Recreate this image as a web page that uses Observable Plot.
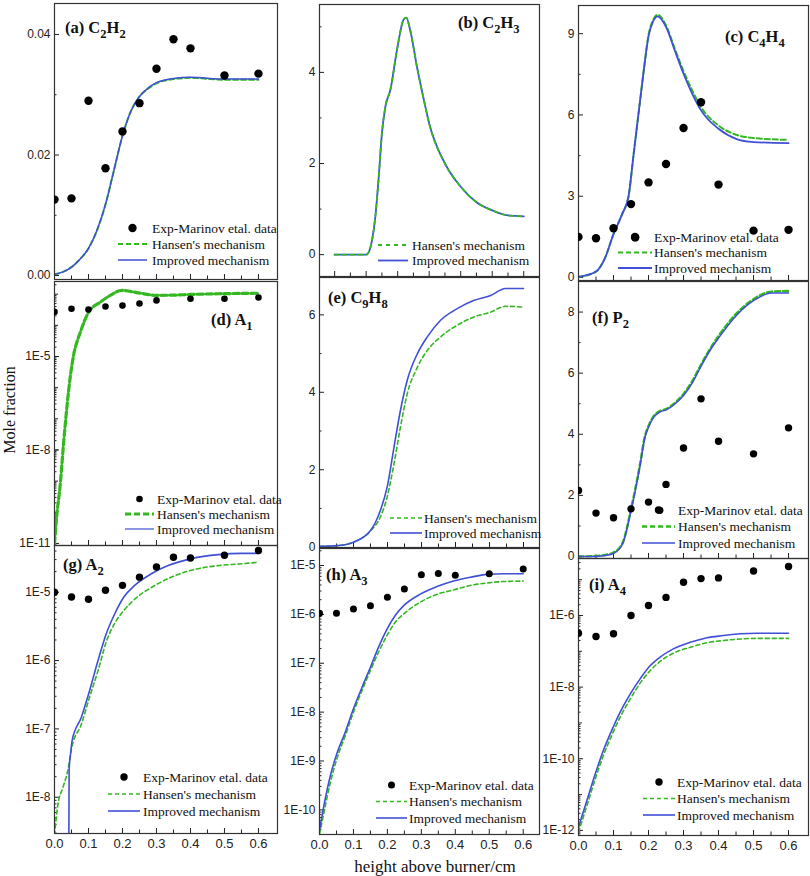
<!DOCTYPE html>
<html><head><meta charset="utf-8">
<script src="https://cdn.jsdelivr.net/npm/d3@7"></script>
<script src="https://cdn.jsdelivr.net/npm/@observablehq/plot@0.6"></script>
<style>
body{margin:0;background:#fff;}
#chart{position:relative;width:810px;height:876px;overflow:hidden;background:#fff;}
</style></head><body><div id="chart"></div>
<script>
// ---------- data ----------
const expX = [0,0.05,0.1,0.15,0.2,0.25,0.3,0.35,0.4,0.5,0.6];
const xMajorTicks = [0,0.1,0.2,0.3,0.4,0.5,0.6];
const xMinorTicks = [0.05,0.15,0.25,0.35,0.45,0.55];
const xTickLabels = ["0.0","0.1","0.2","0.3","0.4","0.5","0.6"];
const legendLabels = ["Exp-Marinov etal. data","Hansen's mechanism","Improved mechanism"];

// (a) C2H2
const a_exp = [0.0126,0.0128,0.029,0.0178,0.0239,0.0286,0.0343,0.0392,0.0377,0.0332,0.0335];
const a_simX = [0,0.025,0.05,0.075,0.1,0.125,0.15,0.175,0.2,0.225,0.25,0.275,0.3,0.35,0.4,0.5,0.6];
const a_improved = [0.0002,0.0006,0.0014,0.0027,0.0045,0.0075,0.0118,0.0175,0.0232,0.0273,0.0297,0.0311,0.032,0.0327,0.0329,0.0326,0.0326];
const a_hansen = [0.0002,0.0006,0.0014,0.0027,0.0045,0.0075,0.0118,0.0175,0.0232,0.0273,0.0297,0.031,0.0319,0.0326,0.0328,0.0325,0.0325];

// (b) C2H3
const b_simX = [0,0.05,0.1,0.108,0.1185,0.129,0.14,0.15,0.161,0.177,0.198,0.219,0.2275,0.24,0.261,0.283,0.3,0.35,0.4,0.45,0.5,0.55,0.6];
const b_improved = [0,0,0,0.05,0.31,0.82,1.71,2.66,3.25,3.62,4.5,5.16,5.2,4.92,4.13,3.4,2.88,2.0,1.49,1.15,0.97,0.86,0.84];
const b_hansen = [0,0,0,0.05,0.31,0.82,1.71,2.66,3.25,3.62,4.5,5.16,5.2,4.92,4.13,3.4,2.88,2.0,1.49,1.15,0.97,0.86,0.84];

// (c) C4H4
const c_expX = [0,0.05,0.1,0.15,0.162,0.2,0.25,0.3,0.35,0.4,0.5,0.6];
const c_exp = [1.5,1.45,1.82,2.71,1.48,3.51,4.19,5.52,6.47,3.43,1.73,1.76];
const c_simX = [0,0.05,0.075,0.1,0.125,0.143,0.157,0.171,0.186,0.2,0.213,0.226,0.25,0.275,0.3,0.325,0.35,0.4,0.45,0.5,0.6];
const c_improved = [0.02,0.22,0.7,1.6,2.35,3.0,4.5,6.0,7.6,8.9,9.45,9.64,9.25,8.38,7.52,6.78,6.17,5.49,5.12,5.0,4.96];
const c_hansen = [0.02,0.22,0.7,1.6,2.35,3.0,4.5,6.0,7.6,8.95,9.5,9.7,9.3,8.45,7.62,6.9,6.29,5.61,5.27,5.15,5.08];

// (d) A1
const d_expX = [0,0.05,0.1,0.15,0.2,0.25,0.3,0.4,0.5,0.6];
const d_exp = [2.7e-4,3.4e-4,3.2e-4,4.0e-4,4.3e-4,5.0e-4,6.3e-4,7.1e-4,7.1e-4,7.8e-4];
const d_simX = [0,0.005,0.0175,0.027,0.037,0.047,0.056,0.076,0.1,0.134,0.164,0.198,0.247,0.3,0.35,0.4,0.5,0.6];
const d_improved = [1.0e-11,5.0e-11,9.3e-10,1.8e-8,2.7e-7,2.5e-6,1.07e-5,6.0e-5,2.6e-4,5.5e-4,9.1e-4,1.32e-3,1.1e-3,9.2e-4,9.3e-4,9.8e-4,1.04e-3,1.07e-3];
const d_hansen = [1.0e-11,5.0e-11,9.3e-10,1.8e-8,2.7e-7,2.5e-6,1.07e-5,6.0e-5,2.6e-4,5.5e-4,9.1e-4,1.32e-3,1.1e-3,9.2e-4,9.3e-4,9.8e-4,1.04e-3,1.07e-3];

// (e) C9H8
const e_simX = [0,0.052,0.1,0.15,0.179,0.199,0.219,0.238,0.258,0.288,0.317,0.356,0.405,0.453,0.503,0.547,0.6];
const e_improved = [0.02,0.04,0.13,0.43,0.95,1.55,2.58,3.53,4.31,5.0,5.43,5.86,6.16,6.37,6.5,6.68,6.68];
const e_hansen = [0.02,0.04,0.13,0.42,0.78,1.3,2.15,3.1,3.96,4.65,5.08,5.43,5.73,5.94,6.07,6.22,6.2];

// (f) P2
const f_expX = [0,0.05,0.1,0.15,0.2,0.232,0.25,0.3,0.35,0.4,0.5,0.6];
const f_exp = [2.16,1.42,1.27,1.56,1.78,1.51,2.36,3.55,5.16,3.77,3.36,4.21];
const f_simX = [0,0.05,0.075,0.1,0.126,0.15,0.175,0.19,0.2,0.215,0.231,0.251,0.276,0.3,0.326,0.351,0.376,0.402,0.451,0.501,0.551,0.6];
const f_improved = [0,0,0.03,0.1,0.41,1.5,2.92,3.91,4.23,4.56,4.72,4.8,5.0,5.27,5.7,6.25,6.75,7.18,7.89,8.38,8.62,8.62];
const f_hansen = [0,0.02,0.05,0.13,0.45,1.55,2.97,3.95,4.27,4.6,4.75,4.83,5.03,5.32,5.76,6.3,6.8,7.25,7.95,8.43,8.67,8.69];

// (g) A2
const g_exp = [1.0e-5,8.5e-6,7.9e-6,1.07e-5,1.26e-5,1.66e-5,2.34e-5,3.24e-5,3.16e-5,3.47e-5,4.07e-5];
const g_impX = [0.042,0.043,0.047,0.052,0.079,0.103,0.128,0.152,0.177,0.204,0.236,0.285,0.334,0.403,0.482,0.551,0.6];
const g_improved = [1e-9,2.5e-8,4.2e-8,6.8e-8,1.48e-7,3.6e-7,1.0e-6,2.45e-6,4.8e-6,8.5e-6,1.26e-5,1.86e-5,2.45e-5,3.1e-5,3.55e-5,3.7e-5,3.7e-5];
const g_hanX = [0,0.01,0.025,0.039,0.051,0.079,0.103,0.128,0.152,0.177,0.204,0.236,0.285,0.334,0.403,0.482,0.551,0.6];
const g_hansen = [2.8e-9,7.9e-9,1.4e-8,2.45e-8,5.4e-8,1.17e-7,2.9e-7,7.1e-7,1.86e-6,3.5e-6,5.4e-6,7.9e-6,1.17e-5,1.58e-5,2.1e-5,2.45e-5,2.6e-5,2.75e-5];

// (h) A3
const h_exp = [1.05e-6,1.05e-6,1.29e-6,1.51e-6,2.24e-6,3.3e-6,6.5e-6,6.9e-6,6.3e-6,6.8e-6,8.5e-6];
const h_simX = [0,0.012,0.031,0.051,0.076,0.1,0.125,0.15,0.174,0.199,0.223,0.248,0.297,0.346,0.395,0.444,0.494,0.543,0.6];
const h_improved = [3.8e-11,1.12e-10,4.7e-10,1.41e-9,3.9e-9,1.17e-8,3.2e-8,8.3e-8,2.14e-7,5.0e-7,9.5e-7,1.51e-6,2.6e-6,3.7e-6,4.8e-6,5.75e-6,6.6e-6,6.8e-6,6.8e-6];
const h_hansen = [3.2e-11,8.1e-11,3.4e-10,1.1e-9,3.3e-9,1.0e-8,2.75e-8,7.1e-8,1.7e-7,3.7e-7,6.9e-7,1.02e-6,1.78e-6,2.57e-6,3.16e-6,3.9e-6,4.4e-6,4.7e-6,4.8e-6];

// (i) A4
const i_exp = [3.2e-7,2.6e-7,3.1e-7,1.0e-6,1.9e-6,3.2e-6,8.5e-6,1.07e-5,1.12e-5,1.74e-5,2.34e-5];
const i_simX = [0,0.024,0.048,0.071,0.095,0.119,0.148,0.176,0.205,0.233,0.271,0.319,0.367,0.414,0.462,0.51,0.6];
const i_improved = [1.23e-12,6.8e-12,3.8e-11,1.7e-10,6.2e-10,2.0e-9,6.5e-9,1.7e-8,4.0e-8,6.9e-8,1.17e-7,1.78e-7,2.4e-7,2.75e-7,3.1e-7,3.2e-7,3.2e-7];
const i_hansen = [8.9e-13,4.9e-12,2.75e-11,1.23e-10,4.5e-10,1.45e-9,4.7e-9,1.29e-8,2.9e-8,5.2e-8,8.9e-8,1.29e-7,1.74e-7,2.0e-7,2.2e-7,2.3e-7,2.3e-7];

// ---------- styling ----------
const GREEN = "#33b81f", BLUE = "#3f4fd6", INK = "#222";
const serif = "'Liberation Serif','Times New Roman',serif";
const sans = "'Liberation Sans',Arial,sans-serif";
const zip = (xs, ys) => xs.map((x, i) => ({x, y: ys[i]}));
const decades = (lo, hi) => d3.range(lo, hi + 1).map(e => Math.pow(10, e));
const subDecades = (lo, hi) => d3.range(lo, hi + 1).flatMap(e => [2,3,4,5,6,7,8,9].map(m => m * Math.pow(10, e)));
const fmtE = d => "1E" + Math.round(Math.log10(d));

const panels = [
  {frame:[54,277,3,279], xDomain:[0,0.656], yType:"linear", yDomain:[-0.00066,0.04514],
   yMajor:[0,0.02,0.04], yMid:[], yMinor:[0.01,0.03], yFmt:d=>d.toFixed(2),
   exp: zip(expX,a_exp), han: zip(a_simX,a_hansen), imp: zip(a_simX,a_improved), r:4.2,
   gw:2, bw:1.5, dash:"5,3", greenTop:false,
   title:["(a) C","2","H","2"], tx:65, ty:33,
   legend:{sx:118, sw:29, tx:152, y0:228, step:16, items:["dot","dash","line"]}},
  {frame:[319,539,4,276], xDomain:[-0.048,0.65], yType:"linear", yDomain:[-0.48,5.49],
   yMajor:[0,2,4], yMid:[], yMinor:[1,3,5], yFmt:d=>String(d),
   exp:null, han: zip(b_simX,b_hansen), imp: zip(b_simX,b_improved), r:4,
   gw:1.8, bw:1.8, dash:"4,4", greenTop:true,
   title:["(b) C","2","H","3"], tx:458, ty:28,
   legend:{sx:378, sw:30, tx:412, y0:245, step:15.5, items:["dash","line"]}},
  {frame:[578,808,5,280], xDomain:[0,0.657], yType:"linear", yDomain:[-0.11,10.04],
   yMajor:[0,3,6,9], yMid:[], yMinor:[1.5,4.5,7.5], yFmt:d=>String(d),
   exp: zip(c_expX,c_exp), han: zip(c_simX,c_hansen), imp: zip(c_simX,c_improved), r:4.2,
   gw:2, bw:1.8, dash:"5,3", greenTop:false,
   title:["(c) C","4","H","4"], tx:725, ty:42,
   legend:{sx:618, sw:34, tx:654, y0:237, step:15.5, items:["dot","dash","line"]}},
  {frame:[54,277,281,545], xDomain:[0,0.656], yType:"log", yDomain:[8.6e-12,2.55e-3],
   yMajor:[1e-5,1e-8,1e-11], yMid:decades(-10,-3), yMinor:subDecades(-12,-3), yFmt:fmtE,
   exp: zip(d_expX,d_exp), han: zip(d_simX,d_hansen), imp: zip(d_simX,d_improved), r:3.3,
   gw:3.2, bw:1.2, dash:"6,3", greenTop:true,
   title:["(d) A","1"], tx:211, ty:325,
   legend:{sx:125, sw:29, tx:157, y0:499, step:15, items:["dot","dash","line"]}},
  {frame:[319,539,277,547], xDomain:[0,0.647], yType:"linear", yDomain:[-0.008,6.964],
   yMajor:[0,2,4,6], yMid:[], yMinor:[1,3,5], yFmt:d=>String(d),
   exp:null, han: zip(e_simX,e_hansen), imp: zip(e_simX,e_improved), r:4,
   gw:1.6, bw:1.6, dash:"4,3", greenTop:false,
   title:["(e) C","9","H","8"], tx:328, ty:303,
   legend:{sx:390, sw:32, tx:424, y0:518, step:15, items:["dash","line"]}},
  {frame:[578,808,281,558], xDomain:[0,0.657], yType:"linear", yDomain:[-0.065,9.0],
   yMajor:[0,2,4,6,8], yMid:[], yMinor:[1,3,5,7], yFmt:d=>String(d),
   exp: zip(f_expX,f_exp), han: zip(f_simX,f_hansen), imp: zip(f_simX,f_improved), r:3.7,
   gw:2.4, bw:1.5, dash:"5,3", greenTop:false,
   title:["(f) P","2"], tx:592, ty:323,
   legend:{sx:642, sw:33, tx:678, y0:510, step:16.5, items:["dot","dash","line"]}},
  {frame:[54,277,545,833], xDomain:[0,0.656], yType:"log", yDomain:[2.95e-9,4.82e-5],
   yMajor:[1e-5,1e-6,1e-7,1e-8], yMid:[], yMinor:subDecades(-9,-5), yFmt:fmtE,
   exp: zip(expX,g_exp), han: zip(g_hanX,g_hansen), imp: zip(g_impX,g_improved), r:3.7,
   gw:1.6, bw:1.6, dash:"4,3", greenTop:false, xLabels:true,
   title:["(g) A","2"], tx:63, ty:570,
   legend:{sx:108, sw:32, tx:143, y0:777, step:17, items:["dot","dash","line"]}},
  {frame:[319,539,548,834], xDomain:[0,0.648], yType:"log", yDomain:[3.13e-11,2.23e-5],
   yMajor:[1e-5,1e-6,1e-7,1e-8,1e-9,1e-10], yMid:[], yMinor:subDecades(-11,-5), yFmt:fmtE,
   exp: zip(expX,h_exp), han: zip(h_simX,h_hansen), imp: zip(h_simX,h_improved), r:3.5,
   gw:1.6, bw:1.6, dash:"4,3", greenTop:false, xLabels:true,
   title:["(h) A","3"], tx:326, ty:580,
   legend:{sx:376, sw:31, tx:409, y0:785, step:16.5, items:["dot","dash","line"]}},
  {frame:[578,808,558,835], xDomain:[0,0.657], yType:"log", yDomain:[7.2e-13,3.9e-5],
   yMajor:[1e-6,1e-8,1e-10,1e-12], yMid:[1e-5,1e-7,1e-9,1e-11], yMinor:subDecades(-13,-5), yFmt:fmtE,
   exp: zip(expX,i_exp), han: zip(i_simX,i_hansen), imp: zip(i_simX,i_improved), r:3.7,
   gw:1.6, bw:1.6, dash:"4,3", greenTop:false, xLabels:true,
   title:["(i) A","4"], tx:589, ty:590,
   legend:{sx:643, sw:32, tx:677, y0:782, step:16.5, items:["dot","dash","line"]}}
];

const chart = document.getElementById("chart");

function makePanel(p) {
  const [L, R, T, B] = p.frame;
  const ml = 50, mr = 2, mt = 2, mb = 2;
  const fw = R - L, fh = B - T;
  const [x0, x1] = p.xDomain, [y0, y1] = p.yDomain;
  const isLog = p.yType === "log";
  const inY = t => t >= Math.min(y0, y1) && t <= Math.max(y0, y1);
  const yUp = len => isLog ? y0 * Math.pow(10, len * (Math.log10(y1) - Math.log10(y0)) / fh)
                           : y0 + len * (y1 - y0) / fh;
  const xIn = len => x0 + len * (x1 - x0) / fw;
  const tick = {stroke: INK, strokeWidth: 1};
  const green = Plot.line(p.han, {x:"x", y:"y", stroke:GREEN, strokeWidth:p.gw, strokeDasharray:p.dash, curve:"monotone-x", clip:true});
  const blue = Plot.line(p.imp, {x:"x", y:"y", stroke:BLUE, strokeWidth:p.bw, curve:"monotone-x", clip:true});
  const marks = [
    Plot.ruleX(xMajorTicks, {x:d=>d, y1:y0, y2:yUp(5), ...tick}),
    Plot.ruleX(xMinorTicks, {x:d=>d, y1:y0, y2:yUp(3.5), ...tick}),
    Plot.ruleY(p.yMajor.filter(inY), {y:d=>d, x1:x0, x2:xIn(5), ...tick}),
    Plot.ruleY(p.yMid.filter(inY), {y:d=>d, x1:x0, x2:xIn(4), ...tick}),
    Plot.ruleY(p.yMinor.filter(inY), {y:d=>d, x1:x0, x2:xIn(2.5), ...tick}),
    Plot.text(p.yMajor, {y:d=>d, frameAnchor:"left", textAnchor:"end", dx:-4, text:p.yFmt, fontSize:12, fontFamily:sans, fill:INK}),
    ...(p.greenTop ? [blue, green] : [green, blue]),
    Plot.frame({stroke:"#333", strokeWidth:1.2})
  ];
  if (p.exp) marks.push(Plot.dot(p.exp, {x:"x", y:"y", r:p.r, fill:"#000", stroke:"none", clip:true}));
  if (p.xLabels) marks.push(Plot.text(xMajorTicks, {x:d=>d, frameAnchor:"bottom", lineAnchor:"top", dy:5, text:(d,i)=>xTickLabels[i], fontSize:13, fontFamily:sans, fill:INK}));
  const svg = Plot.plot({
    width: fw + ml + mr, height: fh + mt + mb,
    marginLeft: ml, marginRight: mr, marginTop: mt, marginBottom: mb,
    x: {type:"linear", domain:p.xDomain, axis:null},
    y: {type:p.yType, domain:p.yDomain, axis:null},
    style: {background:"transparent", overflow:"visible"},
    marks
  });
  svg.style.position = "absolute";
  svg.style.left = (L - ml) + "px";
  svg.style.top = (T - mt) + "px";
  svg.style.maxWidth = "none";
  chart.appendChild(svg);
}
panels.forEach(makePanel);

// ---------- overlay: titles, legends, axis titles ----------
const ov = d3.select(chart).append("svg")
  .attr("width", 810).attr("height", 876)
  .style("position","absolute").style("left","0px").style("top","0px").style("overflow","visible");

panels.forEach(p => {
  const t = ov.append("text").attr("x", p.tx).attr("y", p.ty)
    .attr("font-family", serif).attr("font-weight", "bold").attr("font-size", 16.5).attr("fill", "#111");
  p.title.forEach((s, i) => {
    const ts = t.append("tspan").text(s);
    if (i % 2 === 1) ts.attr("font-size", 12.5).attr("dy", 4.5);
    else if (i > 0) ts.attr("dy", -4.5);
  });
  const lg = p.legend;
  lg.items.forEach((kind, k) => {
    const cy = lg.y0 + k * lg.step;
    const label = kind === "dot" ? legendLabels[0] : kind === "dash" ? legendLabels[1] : legendLabels[2];
    if (kind === "dot") ov.append("circle").attr("cx", lg.sx + lg.sw / 2).attr("cy", cy).attr("r", p.r).attr("fill", "#000");
    else ov.append("line").attr("x1", lg.sx).attr("x2", lg.sx + lg.sw).attr("y1", cy).attr("y2", cy)
      .attr("stroke", kind === "dash" ? GREEN : BLUE)
      .attr("stroke-width", kind === "dash" ? p.gw : p.bw)
      .attr("stroke-dasharray", kind === "dash" ? p.dash : null);
    ov.append("text").attr("x", lg.tx).attr("y", cy + 4.5).text(label)
      .attr("font-family", serif).attr("font-size", 13.5).attr("fill", "#111");
  });
});

ov.append("text").attr("transform", "translate(15,410) rotate(-90)").attr("text-anchor", "middle")
  .attr("font-family", serif).attr("font-size", 16).attr("fill", "#111").text("Mole fraction");
ov.append("text").attr("x", 435).attr("y", 872).attr("text-anchor", "middle")
  .attr("font-family", serif).attr("font-size", 17).attr("fill", "#111").text("height above burner/cm");
</script>
</body></html>
